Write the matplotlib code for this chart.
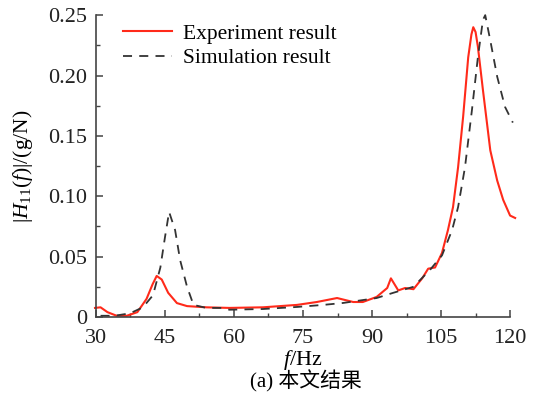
import matplotlib
matplotlib.use('Agg')
import matplotlib.pyplot as plt
import matplotlib.ticker as ticker

plt.rcParams['font.family'] = ['Liberation Serif', 'Noto Sans CJK SC']
plt.rcParams['mathtext.fontset'] = 'custom'
plt.rcParams['mathtext.rm'] = 'Liberation Serif'
plt.rcParams['mathtext.it'] = 'Liberation Serif:italic'

# experiment (red)
f_exp = [29.8, 31.0, 32.5, 34.5, 36.7, 39.0, 41.0, 42.3, 43.2, 44.3, 45.7, 47.6, 49.8,
         54.0, 59.0, 66.3, 73.7, 78.0, 82.4, 85.9, 88.0, 91.0, 93.3, 94.1, 95.7,
         97.2, 99.0, 100.9, 102.2, 103.7, 105.2, 106.5, 107.6, 108.7, 109.8,
         110.9, 111.6, 112.0, 112.5, 113.0, 114.1, 115.7, 117.2, 118.5, 120.0, 121.1]
h_exp = [0.0075, 0.008, 0.004, 0.001, 0.001, 0.004, 0.015, 0.027, 0.034, 0.031, 0.020,
         0.0115, 0.009, 0.008, 0.0075, 0.008, 0.010, 0.0124, 0.0157, 0.0124,
         0.0124, 0.0166, 0.024, 0.032, 0.022, 0.024, 0.023, 0.032, 0.040, 0.041,
         0.053, 0.072, 0.091, 0.124, 0.166, 0.215, 0.234, 0.240, 0.236, 0.224,
         0.188, 0.138, 0.113, 0.097, 0.084, 0.082]

# simulation (dashed)
f_sim = [31.0, 34.0, 37.4, 40.2, 42.4, 44.0, 45.0, 45.9, 47.2, 48.3, 49.8, 51.2,
         54.0, 57.6, 59.0, 66.3, 73.7, 79.4, 83.7, 88.0, 91.0, 94.6, 99.0,
         102.6, 105.2, 107.4, 108.7, 110.2, 111.7, 113.0, 114.1, 114.6, 115.7,
         117.2, 118.9, 120.6]
h_sim = [0.001, 0.001, 0.003, 0.008, 0.018, 0.041, 0.066, 0.087, 0.072, 0.047,
         0.025, 0.010, 0.0075, 0.0075, 0.006, 0.0066, 0.0083, 0.010, 0.0116,
         0.014, 0.0157, 0.020, 0.025, 0.039, 0.051, 0.072, 0.091, 0.124, 0.171,
         0.215, 0.246, 0.25, 0.229, 0.199, 0.174, 0.161]

fig = plt.figure(figsize=(5.33, 4.09), dpi=100)
ax = fig.add_axes([0.180, 0.225, 0.777, 0.738])

ax.plot(f_exp, h_exp, color='#ff2a1a', lw=1.5, label='Experiment result', clip_on=False)
ax.plot(f_sim, h_sim, color='#333333', lw=1.3, dashes=(5, 4), label='Simulation result', clip_on=False)

ax.set_xlim(30, 120)
ax.set_ylim(0, 0.25)
ax.set_xticks([30, 45, 60, 75, 90, 105, 120])
ax.xaxis.set_minor_locator(ticker.MultipleLocator(7.5))
ax.set_yticks([0, 0.05, 0.10, 0.15, 0.20, 0.25])
ax.yaxis.set_minor_locator(ticker.MultipleLocator(0.025))
ax.yaxis.set_major_formatter(ticker.FuncFormatter(lambda y, _: '0' if y == 0 else '%.2f' % y))

for s in ['top', 'right']:
    ax.spines[s].set_visible(False)
for s in ['left', 'bottom']:
    ax.spines[s].set_color('#444444')
    ax.spines[s].set_linewidth(1.2)

ax.tick_params(which='both', direction='in', colors='#444444', labelcolor='#222222', labelsize=16)
ax.tick_params(which='major', length=5, width=1.1)
ax.tick_params(which='minor', length=3, width=1.0)
ax.tick_params(axis='x', pad=9)
ax.tick_params(axis='y', pad=6)

ax.set_xlabel(r'$f$/Hz', fontsize=16, labelpad=0)
ax.set_ylabel(r'$|H_{11}(f)|/(\mathrm{g/N})$', fontsize=15.5, labelpad=10)
fig.text(0.574, 0.04, '(a) 本文结果', fontsize=15, ha='center', va='bottom')

ax.legend(loc='upper left', bbox_to_anchor=(0.018, 1.035), frameon=False, fontsize=15.5,
          handlelength=2.3, handletextpad=0.5, labelspacing=0.2)

fig.savefig('out.png', dpi=100)
